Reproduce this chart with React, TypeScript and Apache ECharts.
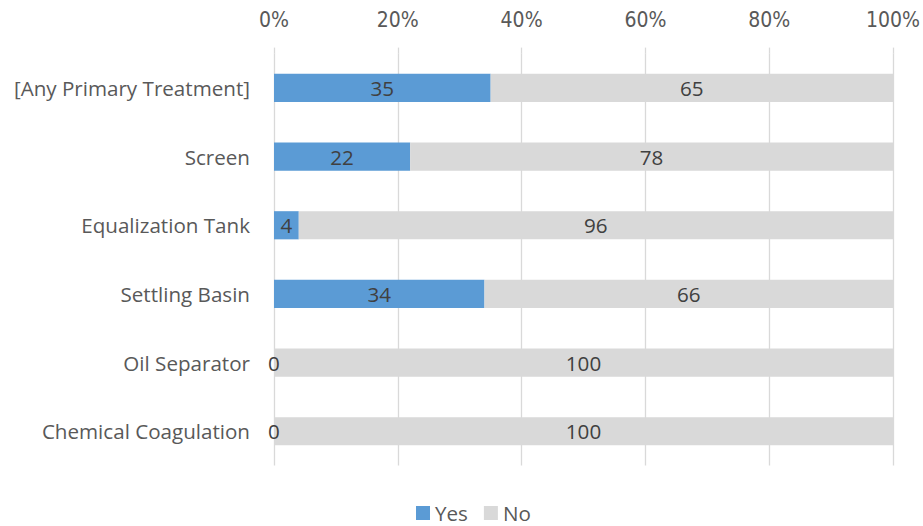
import React, { useEffect, useRef } from "react";
import * as echarts from "echarts";

const categories = [
  "[Any Primary Treatment]",
  "Screen",
  "Equalization Tank",
  "Settling Basin",
  "Oil Separator",
  "Chemical Coagulation",
];
const yesValues = [35, 22, 4, 34, 0, 0];
const noValues = [65, 78, 96, 66, 100, 100];
const xTicks = [0, 20, 40, 60, 80, 100];

export default function App() {
  const ref = useRef<HTMLDivElement>(null);
  useEffect(() => {
    if (!ref.current) return;
    const chart = echarts.init(ref.current, undefined, { renderer: "svg" });
    const labelFont = "'Open Sans', sans-serif";
    const fs = 20.6;
    chart.setOption({
      animation: false,
      backgroundColor: "#ffffff",
      grid: { left: 274, right: 30, top: 53.6, bottom: 60.4, containLabel: false },
      legend: {
        top: 501,
        left: 416,
        padding: 0,
        itemWidth: 14,
        itemHeight: 14,
        itemGap: 16,
        icon: "rect",
        textStyle: { fontFamily: labelFont, fontSize: fs, color: "#595959", lineHeight: 24 },
        data: ["Yes", "No"],
      },
      xAxis: {
        type: "value",
        position: "top",
        min: xTicks[0],
        max: xTicks[xTicks.length - 1],
        interval: 20,
        axisLine: { show: false },
        axisTick: { show: true, length: 6, lineStyle: { color: "#D9D9D9", width: 1.3 } },
        splitLine: { show: true, lineStyle: { color: "#D9D9D9", width: 1.3 } },
        axisLabel: {
          formatter: "{value}%",
          margin: 23,
          fontFamily: "'Liberation Sans Narrow', 'DejaVu Sans Condensed', sans-serif",
          fontSize: 21,
          color: "#595959",
        },
      },
      yAxis: {
        type: "category",
        inverse: true,
        data: categories,
        axisLine: { show: false },
        axisTick: { show: false },
        axisLabel: { margin: 24, fontFamily: labelFont, fontSize: fs, color: "#595959" },
      },
      series: [
        {
          name: "Yes",
          type: "bar",
          stack: "total",
          barWidth: "41%",
          data: yesValues,
          itemStyle: { color: "#5B9BD5" },
          label: { show: true, position: "inside", color: "#404040", fontFamily: labelFont, fontSize: fs },
        },
        {
          name: "No",
          type: "bar",
          stack: "total",
          barWidth: "41%",
          data: noValues,
          itemStyle: { color: "#D9D9D9" },
          label: { show: true, position: "inside", color: "#404040", fontFamily: labelFont, fontSize: fs },
        },
      ],
    });
    return () => chart.dispose();
  }, []);
  return (
    <div
      ref={ref}
      style={{ position: "fixed", left: 0, top: 0, width: 923, height: 526 }}
    />
  );
}
